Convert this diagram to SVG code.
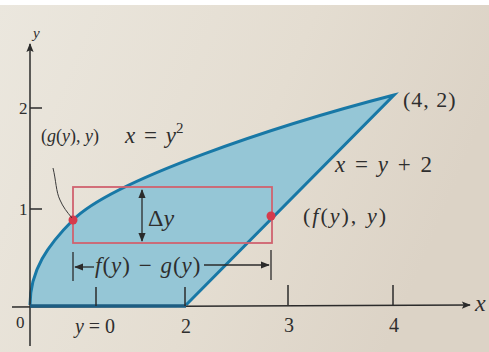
<svg xmlns="http://www.w3.org/2000/svg" width="489" height="352" viewBox="0 0 489 352">
<defs>
<linearGradient id="bg" x1="0" y1="0" x2="1" y2="0.3">
<stop offset="0" stop-color="#ebe7de"/>
<stop offset="0.6" stop-color="#e4ddd1"/>
<stop offset="1" stop-color="#dcd3c6"/>
</linearGradient>
<marker id="ah" viewBox="0 0 10 10" refX="9" refY="5" markerWidth="9" markerHeight="9" markerUnits="userSpaceOnUse" orient="auto-start-reverse">
<path d="M0,1 L10,5 L0,9 Z" fill="#2b2b2b"/>
</marker>
<marker id="axh" viewBox="0 0 10 10" refX="9" refY="5" markerWidth="11" markerHeight="9" markerUnits="userSpaceOnUse" orient="auto">
<path d="M0,1 L10,5 L0,9 L2,5 Z" fill="#2b2b2b"/>
</marker>
</defs>
<style>
.ax{stroke:#2b2b2b;stroke-width:1.5;fill:none}
.tk{stroke:#2b2b2b;stroke-width:1.5}
.t{font-family:"Liberation Serif",serif;fill:#2e2e2e}
.i{font-style:italic}
.dim{stroke:#2b2b2b;stroke-width:1.3;fill:none}
</style>
<rect x="0" y="0" width="489" height="352" fill="url(#bg)"/>
<rect x="0" y="0" width="489" height="5" fill="#ffffff"/>

<g id="region">
<path d="M30,305 C30,270 48,245 73,220 C113,180 274,126 394,95 L186,305 Z" fill="#95c6d6"/>
<path d="M30,305 C30,270 48,245 73,220 C113,180 274,126 394,95 L186,305" fill="none" stroke="#1878a6" stroke-width="3" stroke-linejoin="miter"/>
</g>

<g id="axes">
<line class="ax" x1="30" y1="346" x2="30" y2="44" marker-end="url(#axh)"/>
<line class="ax" x1="12" y1="307" x2="470" y2="305" marker-end="url(#axh)"/>
<line x1="30" y1="306" x2="186" y2="306" stroke="#1d5d82" stroke-width="3.5"/>
<line class="tk" x1="30" y1="108" x2="42" y2="108"/>
<line class="tk" x1="30" y1="209" x2="42" y2="209"/>
<line class="tk" x1="96" y1="287" x2="96" y2="306"/>
<line class="tk" x1="185" y1="287" x2="185" y2="306"/>
<line class="tk" x1="288" y1="285" x2="288" y2="305"/>
<line class="tk" x1="393" y1="285" x2="393" y2="305"/>
<text class="t i" x="33" y="38" font-size="15">y</text>
<text class="t i" x="475" y="311" font-size="24">x</text>
<text class="t" x="19" y="114" font-size="17">2</text>
<text class="t" x="19" y="215" font-size="17">1</text>
<text class="t" x="16" y="328" font-size="17" fill="#777">0</text>
<text class="t" x="95" y="333" font-size="20" text-anchor="middle"><tspan class="i">y</tspan> = 0</text>
<text class="t" x="186" y="333" font-size="20" text-anchor="middle">2</text>
<text class="t" x="289" y="332" font-size="20" text-anchor="middle">3</text>
<text class="t" x="394" y="332" font-size="20" text-anchor="middle">4</text>
</g>

<g id="strip">
<rect x="73" y="187" width="199" height="56" fill="none" stroke="#d0626f" stroke-width="1.8"/>
<line class="dim" x1="142" y1="190" x2="142" y2="241" marker-start="url(#ah)" marker-end="url(#ah)"/>
<text class="t" x="148" y="226" font-size="24">Δ<tspan class="i">y</tspan></text>
<circle cx="73" cy="220" r="4.5" fill="#d63a4c"/>
<circle cx="271" cy="216" r="4.5" fill="#d63a4c"/>
</g>

<g id="width-dim">
<line class="dim" x1="73" y1="252" x2="73" y2="281"/>
<line class="dim" x1="271" y1="250" x2="271" y2="280"/>
<line class="dim" x1="94" y1="267" x2="75" y2="267" marker-end="url(#ah)"/>
<line class="dim" x1="204" y1="265" x2="269" y2="265" marker-end="url(#ah)"/>
<text class="t" x="95" y="273" font-size="23" letter-spacing="1" word-spacing="1"><tspan class="i">f</tspan>(<tspan class="i">y</tspan>) − <tspan class="i">g</tspan>(<tspan class="i">y</tspan>)</text>
</g>

<g id="labels">
<path d="M53,168 C56,180 56,192 60,200 C63,207 67,212 72,218" fill="none" stroke="#3a3a3a" stroke-width="1"/>
<text class="t" x="41" y="142" font-size="18">(<tspan class="i">g</tspan>(<tspan class="i">y</tspan>), <tspan class="i">y</tspan>)</text>
<text class="t" x="125" y="143" font-size="23" word-spacing="3"><tspan class="i">x</tspan> = <tspan class="i">y</tspan><tspan font-size="15" dy="-10">2</tspan></text>
<text class="t" x="403" y="107" font-size="22" letter-spacing="1">(4, 2)</text>
<text class="t" x="335" y="172" font-size="23" word-spacing="4"><tspan class="i">x</tspan> = <tspan class="i">y</tspan> + 2</text>
<text class="t" x="303" y="223" font-size="22" letter-spacing="2" word-spacing="1">(<tspan class="i">f</tspan>(<tspan class="i">y</tspan>), <tspan class="i">y</tspan>)</text>
</g>
</svg>
